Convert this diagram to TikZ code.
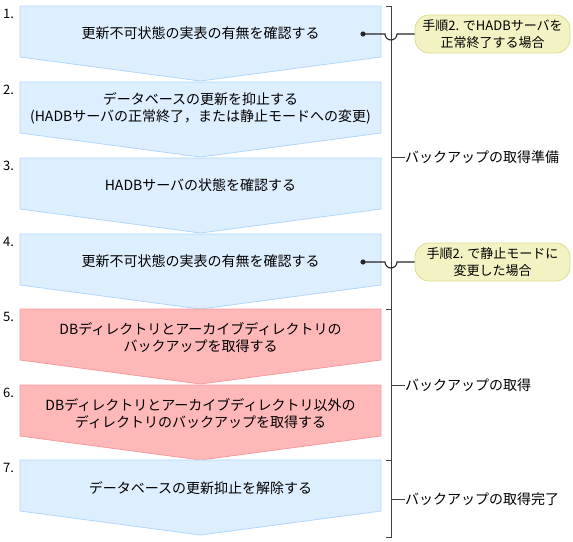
\documentclass[tikz,border=0pt]{standalone}
\usepackage{fontspec}
\setmainfont{Noto Sans CJK JP}
\definecolor{bluefill}{HTML}{DDEEFF}
\definecolor{blueline}{HTML}{B0D6FA}
\definecolor{redfill}{HTML}{FFB8B8}
\definecolor{redline}{HTML}{F7999B}
\definecolor{notefill}{HTML}{F2F2C2}
\definecolor{noteline}{HTML}{DEDC90}
\definecolor{linegray}{HTML}{404040}
\tikzset{
  stepblue/.style={fill=bluefill,draw=blueline,line width=0.8pt},
  stepred/.style={fill=redfill,draw=redline,line width=0.8pt},
  steptext/.style={align=center,font=\fontsize{14}{17}\selectfont,inner sep=0pt},
  numtext/.style={anchor=west,font=\fontsize{13}{14}\selectfont,inner sep=0pt},
  notebox/.style={fill=notefill,draw=noteline,line width=0.8pt,rounded corners=14pt,minimum width=155pt,minimum height=38pt,align=center,font=\fontsize{13}{17}\selectfont,inner sep=0pt},
  brace/.style={draw=linegray,line width=0.9pt},
  conn/.style={draw=black!85,line width=1.1pt},
  grouplabel/.style={anchor=west,font=\fontsize{14}{15}\selectfont,inner sep=0pt}
}
\newcommand{\stepshape}[2]{%
  \path[#1] (20,#2) -- (381,#2) -- (381,#2+51) -- (200.5,#2+75) -- (20,#2+51) -- cycle;}
\begin{document}
\begin{tikzpicture}[x=1pt,y=-1pt]
\useasboundingbox (0,0) rectangle (573,541);
% step shapes
\stepshape{stepblue}{6}
\stepshape{stepblue}{82}
\stepshape{stepblue}{158}
\stepshape{stepblue}{234}
\stepshape{stepred}{309}
\stepshape{stepred}{385}
\stepshape{stepblue}{460}
% numbers
\node[numtext] (n1) at (3,14) {1.};
\node[numtext] (n2) at (3,90) {2.};
\node[numtext] (n3) at (3,166) {3.};
\node[numtext] (n4) at (3,242) {4.};
\node[numtext] (n5) at (3,317) {5.};
\node[numtext] (n6) at (3,393) {6.};
\node[numtext] (n7) at (3,468) {7.};
% step texts
\node[steptext] (t1) at (200.5,33) {更新不可状態の実表の有無を確認する};
\node[steptext] (t2) at (200.5,108.5) {データベースの更新を抑止する\\(HADBサーバの正常終了，または静止モードへの変更)};
\node[steptext] (t3) at (200.5,185) {HADBサーバの状態を確認する};
\node[steptext] (t4) at (200.5,261) {更新不可状態の実表の有無を確認する};
\node[steptext] (t5) at (200.5,337.5) {DBディレクトリとアーカイブディレクトリの\\バックアップを取得する};
\node[steptext] (t6) at (200.5,413.5) {DBディレクトリとアーカイブディレクトリ以外の\\ディレクトリのバックアップを取得する};
\node[steptext] (t7) at (200.5,488) {データベースの更新抑止を解除する};
% brackets
\draw[brace] (386,6) -- (391,6) -- (391,309) -- (386,309);
\draw[brace] (391,309) -- (391,460) -- (386,460);
\draw[brace] (391,460) -- (391,537) -- (386,537);
\coordinate (b1) at (391,157);
\coordinate (b2) at (391,385);
\coordinate (b3) at (391,499);
\node[grouplabel] (g1) at (405,157) {バックアップの取得準備};
\node[grouplabel] (g2) at (405,385) {バックアップの取得};
\node[grouplabel] (g3) at (405,499) {バックアップの取得完了};
\draw[brace] (b1) -- (g1.west);
\draw[brace] (b2) -- (g2.west);
\draw[brace] (b3) -- (g3.west);
% notes
\node[notebox] (c1) at (492.5,34) {手順2. でHADBサーバを\\正常終了する場合};
\node[notebox] (c2) at (492.5,262) {手順2. で静止モードに\\変更した場合};
\coordinate (d1) at (363,34);
\coordinate (d2) at (363,262);
\fill[black!85] (d1) circle (2.6);
\fill[black!85] (d2) circle (2.6);
\draw[conn] (d1) -- (385,34) arc[start angle=180,end angle=0,radius=6] -- (c1.west);
\draw[conn] (d2) -- (385,262) arc[start angle=180,end angle=0,radius=6] -- (c2.west);
\end{tikzpicture}
\end{document}
